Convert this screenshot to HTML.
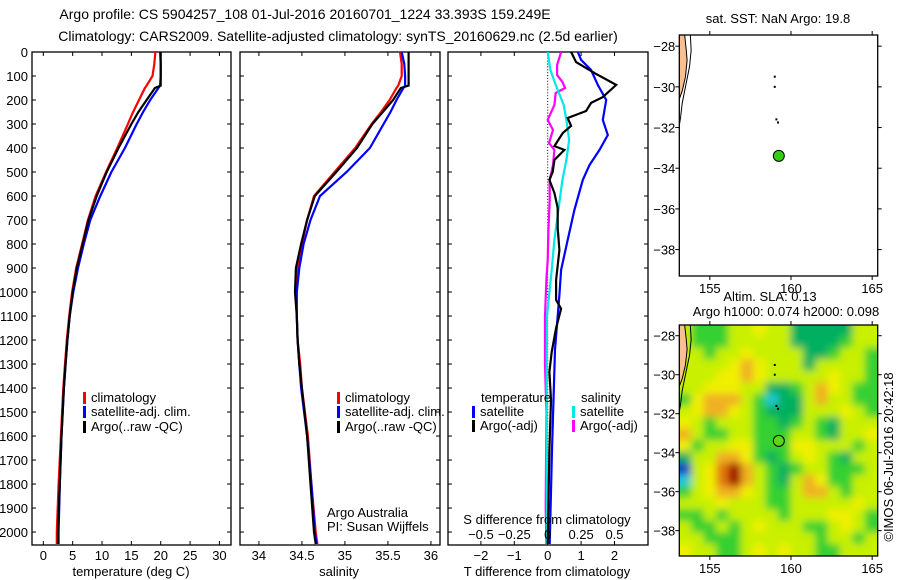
<!DOCTYPE html>
<html><head><meta charset="utf-8"><title>Argo profile</title>
<style>
html,body{margin:0;padding:0;background:#fff;}
svg{display:block;font-family:"Liberation Sans",Arial,sans-serif;font-size:13px;}
</style></head>
<body>
<svg id="fig" width="900" height="580" viewBox="0 0 900 580">
<defs>
<clipPath id="clipP1"><rect x="32" y="52" width="199" height="493"/></clipPath>
<clipPath id="clipP2"><rect x="240" y="52" width="200" height="493"/></clipPath>
<clipPath id="clipP3"><rect x="448" y="52" width="200" height="493"/></clipPath>
<clipPath id="clipM1"><rect x="679" y="35" width="199" height="241"/></clipPath>
<clipPath id="clipM2"><rect x="679" y="325" width="199" height="231"/></clipPath>
<filter id="blur" filterUnits="userSpaceOnUse" x="660" y="305" width="240" height="270"><feGaussianBlur stdDeviation="4"/></filter>
</defs>
<text x="305" y="19" text-anchor="middle" style="font-size:14px">Argo profile: CS 5904257_108 01-Jul-2016 20160701_1224 33.393S 159.249E</text>
<text x="338" y="41" text-anchor="middle" style="font-size:14px">Climatology: CARS2009. Satellite-adjusted climatology: synTS_20160629.nc (2.5d earlier)</text>
<g id="g"></g>
</svg>
<script>
// ---------- profile data ----------
const tDepth = [0,50,100,140,150,200,250,300,400,500,600,700,800,900,1000,1100,1200,1300,1400,1600,1800,2000,2050];
const tClim  = [19.1,18.9,18.6,17.6,17.3,16.3,15.3,14.4,12.6,10.7,8.9,7.6,6.6,5.6,4.9,4.4,4.0,3.7,3.4,3.0,2.6,2.3,2.3];
const tSat   = [19.9,20.0,20.0,19.9,19.6,18.2,17.0,15.9,13.9,11.6,9.7,8.0,6.9,5.9,5.1,4.5,4.1,3.8,3.5,3.1,2.8,2.6,2.6];
const tArgo  = [20.0,20.0,20.0,20.0,19.0,17.6,16.2,15.0,12.8,10.8,9.1,7.7,6.7,5.7,5.0,4.5,4.1,3.8,3.5,3.1,2.8,2.5,2.5];
const sDepth = [0,50,100,140,150,200,250,300,400,500,600,700,800,900,1000,1100,1200,1300,1400,1600,1800,2000,2050];
const sClim  = [35.64,35.66,35.66,35.62,35.60,35.52,35.42,35.31,35.12,34.88,34.64,34.56,34.50,34.45,34.43,34.44,34.45,34.48,34.50,34.57,34.61,34.66,34.68];
const sSat   = [35.66,35.69,35.70,35.70,35.68,35.60,35.53,35.45,35.29,35.02,34.71,34.60,34.52,34.47,34.44,34.44,34.45,34.47,34.49,34.56,34.61,34.65,34.67];
const sArgo  = [35.74,35.74,35.74,35.74,35.65,35.56,35.44,35.32,35.14,34.90,34.65,34.56,34.49,34.43,34.42,34.44,34.45,34.47,34.50,34.56,34.60,34.64,34.66];
// difference panel
const dTSatDepth = [0,33,75,137,200,283,346,408,471,533,658,783,908,1012,1240,1658,2050];
const dTSat      = [0.9,1.0,1.3,1.5,1.75,1.65,1.8,1.55,1.25,1.05,0.8,0.6,0.4,0.35,0.22,0.13,0.06];
const dTArgoDepth = [0,42,88,137,188,212,246,275,308,338,392,408,450,500,533,587,650,733,825,950,1033,1070,1150,1250,1333,1450,1658,2050];
const dTArgo      = [0.7,0.85,1.4,2.05,1.65,1.3,1.15,0.6,0.7,0.45,0.2,0.5,0.2,0.15,0.05,0.2,0.3,0.3,0.35,0.25,0.25,0.4,0.25,0.12,0.05,0.1,0.05,0.0];
const dSSatDepth = [0,75,137,221,283,367,450,533,658,783,908,1100,1500,2050];
const dSSat      = [0.0,0.02,0.06,0.12,0.14,0.16,0.14,0.11,0.08,0.05,0.03,-0.005,-0.008,-0.005];
const dSArgoDepth = [0,54,96,125,150,171,221,283,325,379,408,471,533,617,742,867,950,1100,1300,1500,1900,2050];
const dSArgo      = [0.1,0.07,0.07,0.11,0.13,0.06,0.05,0.0,0.04,0.01,0.05,0.04,0.015,0.015,0.005,0.0,-0.01,-0.02,-0.02,-0.01,-0.015,-0.01];
const depthTicks = [0,100,200,300,400,500,600,700,800,900,1000,1100,1200,1300,1400,1500,1600,1700,1800,1900,2000];
const tTicks = [0,5,10,15,20,25,30];
const sTicks = [34,34.5,35,35.5,36];
const sTickLabels = ["34","34.5","35","35.5","36"];
const dtTicks = [-2,-1,0,1,2];
const dsTicks = [-0.5,-0.25,0,0.25,0.5];
const dsTickLabels = ["\u22120.5","\u22120.25","0","0.25","0.5"];
// map data
const latTicks = [-28,-30,-32,-34,-36,-38];
const lonTicks = [155,160,165];
const argoLon = 159.249, argoLat = -33.393;
const trackLon = [159.0,159.0,159.1,159.2];
const trackLat = [-29.5,-30.0,-31.6,-31.75];
const coastLon = [153.45,153.55,153.6,153.5,153.3,153.12];
const coastLat = [-27.45,-28.2,-28.7,-29.5,-30.2,-30.6];
const contLon = [153.8,153.85,153.75,153.5,153.3,153.2,153.12];
const contLat = [-27.45,-28.2,-29.0,-30.0,-30.8,-31.5,-31.9];
const slaGrid = [
[1,0,0,0,1,1,2,1,1,-1,-1,-1,-1,-1,1,1],
[1,0,0,0,1,1,1,1,1,-1,-1,-1,-1,0,1,1],
[1,1,0,1,1,2,1,1,1,1,-1,-1,0,1,1,0],
[1,1,1,1,2,3,2,1,1,1,-1,1,1,1,1,0],
[1,1,1,2,2,3,2,1,1,1,1,1,2,1,1,0],
[1,1,2,2,2,1,1,-1,-1,0,1,3,2,1,0,0],
[0,2,3,3,3,1,0,-2,-1,-1,1,3,1,1,0,0],
[1,2,3,3,2,1,0,-1,-1,-1,1,1,1,2,1,0],
[2,1,0,1,1,1,0,0,-1,0,1,0,-1,1,1,1],
[3,1,0,0,1,1,0,0,0,1,1,0,-1,1,1,2],
[2,0,1,1,2,2,0,0,0,2,2,1,1,1,0,1],
[-1,1,1,3,3,2,0,-1,0,1,2,1,0,-1,1,1],
[-3,1,2,4,5,3,1,0,-1,0,1,1,0,0,0,1],
[-2,1,2,4,5,3,1,0,-1,1,3,2,0,0,1,1],
[0,1,2,3,3,2,1,0,0,1,3,3,1,0,1,1],
[1,1,1,2,1,1,1,0,0,1,1,1,1,1,2,1],
[0,0,1,0,1,1,1,1,0,1,1,1,2,2,1,0],
[1,0,0,1,0,1,2,1,1,1,0,0,1,2,1,0],
[1,1,0,0,0,1,1,1,1,1,1,0,1,1,0,1],
[2,1,1,0,0,1,2,1,2,1,1,0,0,1,1,1]];
const slaColors = {"-3":"#1838c8","-2":"#20c8d8","-1":"#00b060","0":"#34d030","1":"#c8f000","2":"#f0f000","3":"#f0b020","4":"#e07810","5":"#a00000"};

const NS="http://www.w3.org/2000/svg";
const G=document.getElementById('g');
function mk(tag,attrs,parent){const e=document.createElementNS(NS,tag);for(const k in attrs)e.setAttribute(k,attrs[k]);(parent||G).appendChild(e);return e;}
function txt(x,y,s,anchor,parent){const e=mk('text',{x:x,y:y,'text-anchor':anchor||'start'},parent);e.textContent=s;return e;}

// axis functions
const PT=52, PB=545, DMAX=2054;
const yD = d => PT + d/DMAX*(PB-PT);
const xT = v => 32 + (v+1.93)*5.87;
const xS = v => 240 + (v-33.78)*86;
const xdT = v => 547.7 + v*33.4;
const xdS = v => 547.7 + v*4*33.4;
const M1 = {x0:679.3,x1:877.7,y0:35,y1:276};
const M2 = {x0:679.3,x1:877.7,y0:325,y1:556};
const lonX = (m,l) => m.x0 + (l-153.12)/(165.34-153.12)*(m.x1-m.x0);
const latY = (m,l) => m.y0 + (-27.45-l)/(39.3-27.45)*(m.y1-m.y0);

function frame(x0,x1,name){
  const r=mk('rect',{x:x0,y:PT,width:x1-x0,height:PB-PT,fill:'none',stroke:'#000','stroke-width':1.3});
  
  
  depthTicks.forEach(d=>{
    mk('line',{x1:x0,x2:x0+4,y1:yD(d),y2:yD(d),stroke:'#000'});
    mk('line',{x1:x1,x2:x1-4,y1:yD(d),y2:yD(d),stroke:'#000'});
  });
}
function xticks(ticks,fn,labels,y){
  ticks.forEach((t,i)=>{
    const x=fn(t);
    mk('line',{x1:x,x2:x,y1:PB,y2:PB-4,stroke:'#000'});
    mk('line',{x1:x,x2:x,y1:PT,y2:PT+4,stroke:'#000'});
    if(labels){const e=txt(x,y,labels[i],'middle');
      
      }
  });
}
function line(depths,vals,fx,color,name,clip){
  const pts=depths.map((d,i)=>fx(vals[i]).toFixed(1)+','+yD(d).toFixed(1)).join(' ');
  const p=mk('polyline',{points:pts,fill:'none',stroke:color,'stroke-width':2.2,'clip-path':'url(#'+clip+')'});
  
  
}
function legendEntry(bx,y,color,label){
  const g=mk('g',{});
  
  
  mk('rect',{x:bx,y:y-10,width:3,height:12,fill:color},g);
  txt(bx+8,y,label,'start',g);
}

// Panel 1: temperature
frame(32,231,'temperature-panel');
depthTicks.forEach(d=>{const e=txt(28,yD(d)+5,String(d),'end');
  
  });
xticks(tTicks,xT,tTicks.map(String),560);
line(tDepth,tClim,xT,'#ff0000','temp-climatology-line','clipP1');
line(tDepth,tSat,xT,'#0000ff','temp-satellite-line','clipP1');
line(tDepth,tArgo,xT,'#000000','temp-argo-line','clipP1');
legendEntry(83,402,'#ff0000','climatology');
legendEntry(83,416,'#0000ff','satellite-adj. clim.');
legendEntry(83,431,'#000000','Argo(..raw -QC)');
(function(){const e=txt(131,576,'temperature (deg C)','middle');})();

// Panel 2: salinity
frame(240,440,'salinity-panel');
xticks(sTicks,xS,sTickLabels,560);
line(sDepth,sClim,xS,'#ff0000','sal-climatology-line','clipP2');
line(sDepth,sSat,xS,'#0000ff','sal-satellite-line','clipP2');
line(sDepth,sArgo,xS,'#000000','sal-argo-line','clipP2');
legendEntry(337,402,'#ff0000','climatology');
legendEntry(337,416,'#0000ff','satellite-adj. clim.');
legendEntry(337,431,'#000000','Argo(..raw -QC)');
(function(){let e=txt(327,517,'Argo Australia');
 e=txt(327,531,'PI: Susan Wijffels');
 e=txt(339,576,'salinity','middle');})();

// Panel 3: differences
frame(448,648,'difference-panel');
xticks(dtTicks,xdT,dtTicks.map(v=>v<0?'\u2212'+(-v):String(v)),560);
for(let d=0; d<2050; d+=12){mk('rect',{x:547.2,y:yD(d),width:1,height:1,fill:'#000'});}
line(dSArgoDepth,dSArgo,xdS,'#ff00ff','sal-argo-diff-line','clipP3');
line(dSSatDepth,dSSat,xdS,'#00e8e8','sal-satellite-diff-line','clipP3');
line(dTSatDepth,dTSat,xdT,'#0000ff','temp-satellite-diff-line','clipP3');
line(dTArgoDepth,dTArgo,xdT,'#000000','temp-argo-diff-line','clipP3');
(function(){let e=txt(481,402,'temperature');
 e=txt(581,402,'salinity');})();
legendEntry(472,416,'#0000ff','satellite');
legendEntry(472,430,'#000000','Argo(-adj)');
legendEntry(572,416,'#00e8e8','satellite');
legendEntry(572,430,'#ff00ff','Argo(-adj)');
(function(){let e=txt(547,524,'S difference from climatology','middle');
 dsTicks.forEach((v,i)=>{const t=txt(xdS(v),539,dsTickLabels[i],'middle');
   
   });
 e=txt(547,576,'T difference from climatology','middle');})();

// Maps
function mapAxes(m,name){
  const r=mk('rect',{x:m.x0,y:m.y0,width:m.x1-m.x0,height:m.y1-m.y0,fill:'none',stroke:'#000','stroke-width':1.3});
  
  
  latTicks.forEach(l=>{const y=latY(m,l);
    mk('line',{x1:m.x0,x2:m.x0-4,y1:y,y2:y,stroke:'#000'});
    mk('line',{x1:m.x1,x2:m.x1+4,y1:y,y2:y,stroke:'#000'});
    const e=txt(m.x0-4,y+5,'\u2212'+(-l),'end');
    
    });
  lonTicks.forEach(l=>{const x=lonX(m,l);
    mk('line',{x1:x,x2:x,y1:m.y1,y2:m.y1+4,stroke:'#000'});
    mk('line',{x1:x,x2:x,y1:m.y0,y2:m.y0-4,stroke:'#000'});
    const e=txt(x,m.y1+17,String(l),'middle');
    
    });
}
function coast(m,clip){
  const land=[[153.12,-27.45]].concat(coastLon.map((l,i)=>[l,coastLat[i]]));
  mk('polygon',{points:land.map(p=>lonX(m,p[0])+','+latY(m,p[1])).join(' '),fill:'#f8c090','clip-path':'url(#'+clip+')'});
  mk('polyline',{points:coastLon.map((l,i)=>lonX(m,l)+','+latY(m,coastLat[i])).join(' '),fill:'none',stroke:'#000','stroke-width':1,'clip-path':'url(#'+clip+')'});
  mk('polyline',{points:contLon.map((l,i)=>lonX(m,l)+','+latY(m,contLat[i])).join(' '),fill:'none',stroke:'#000','stroke-width':1,'clip-path':'url(#'+clip+')'});
  trackLon.forEach((l,i)=>mk('rect',{x:lonX(m,l)-1,y:latY(m,trackLat[i])-1,width:2,height:2,fill:'#000'}));
}
// map 2 heatmap
const hm=mk('g',{'clip-path':'url(#clipM2)'});


mk('rect',{x:M2.x0,y:M2.y0,width:M2.x1-M2.x0,height:M2.y1-M2.y0,fill:'#c8f000'},hm);
const hb=mk('g',{filter:'url(#blur)'},hm);
const nr=slaGrid.length,nc=slaGrid[0].length;
const cw=(M2.x1-M2.x0)/nc, ch=(M2.y1-M2.y0)/nr;
slaGrid.forEach((row,r)=>row.forEach((v,c)=>{
  const cell=mk('rect',{x:M2.x0+c*cw-0.5-(c==0?8:0),y:M2.y0+r*ch-0.5-(r==0?8:0),width:cw+1+(c==0||c==nc-1?8:0),height:ch+1+(r==0||r==nr-1?8:0),fill:slaColors[String(v)]},hb);
  
  
}));
coast(M1,'clipM1');
coast(M2,'clipM2');
mapAxes(M1,'sst-map');
mapAxes(M2,'sla-map');
(function(){
 let c=mk('circle',{cx:lonX(M1,argoLon),cy:latY(M1,argoLat),r:5.5,fill:'#30d010',stroke:'#000'});
 
 c=mk('circle',{cx:lonX(M2,argoLon),cy:latY(M2,argoLat),r:5.5,fill:'#58d818',stroke:'#000'});
 
 let e=txt(778,23,'sat. SST: NaN  Argo: 19.8','middle');
 e=txt(770,301,'Altim. SLA: 0.13','middle');
 e=txt(786,316,'Argo h1000: 0.074 h2000: 0.098','middle');
 e=txt(0,0,'\u00A9IMOS 06-Jul-2016 20:42:18','middle');e.setAttribute('transform','translate(893,457) rotate(-90)');
})();
</script>
</body></html>
